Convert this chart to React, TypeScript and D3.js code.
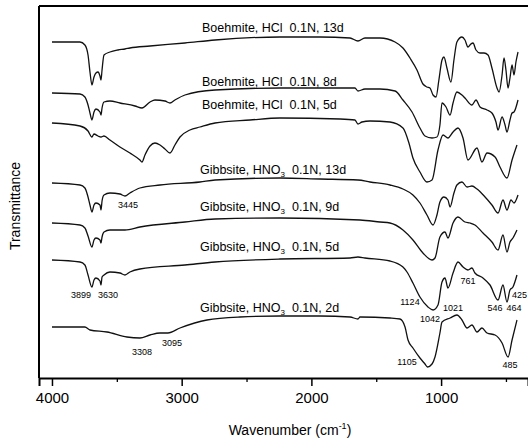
import React, { useEffect, useRef } from 'react'
import * as d3 from 'd3'

// spectra, [wavenumber (cm-1), offset transmittance (a.u.)]
const boehmite13d: [number, number][] = [
  [4000, 336], [3784, 336], [3746, 333], [3722, 323], [3707, 306], [3692, 293], [3676, 301],
  [3661, 305], [3645, 306], [3630, 302], [3622, 298], [3614, 308], [3599, 323], [3553, 326],
  [3491, 328], [3437, 329], [3399, 330], [3244, 332], [2975, 335], [2743, 338], [2242, 341],
  [1934, 341], [1702, 340], [1641, 337], [1587, 340], [1471, 340], [1355, 336], [1294, 330],
  [1240, 320], [1186, 308], [1140, 294], [1109, 291], [1086, 290], [1062, 283], [1039, 281],
  [1017, 298], [993, 318], [978, 321], [955, 310], [924, 296], [901, 318], [878, 336],
  [839, 341], [816, 338], [793, 331], [770, 334], [754, 335], [731, 328], [700, 325],
  [669, 325], [638, 323], [608, 310], [569, 290], [553, 286], [530, 303], [515, 320],
  [500, 308], [484, 290], [469, 300], [453, 313], [438, 303], [423, 316], [407, 326]
]

const boehmite8d: [number, number][] = [
  [4000, 285], [3784, 284], [3746, 281], [3722, 273], [3707, 265], [3692, 258], [3676, 266],
  [3661, 269], [3630, 266], [3622, 263], [3614, 270], [3599, 276], [3553, 277], [3476, 275],
  [3360, 272], [3306, 270], [3244, 276], [3206, 278], [3129, 277], [3090, 275], [3052, 278],
  [2975, 283], [2743, 288], [2242, 290], [1779, 290], [1664, 290], [1641, 287], [1587, 289],
  [1471, 289], [1355, 287], [1294, 278], [1224, 266], [1163, 250], [1124, 242], [1070, 240],
  [1032, 241], [1009, 253], [993, 275], [962, 271], [931, 263], [908, 275], [878, 286],
  [839, 283], [816, 280], [762, 273], [731, 278], [700, 271], [646, 268], [608, 265],
  [577, 256], [561, 248], [530, 261], [507, 253], [492, 246], [469, 258], [453, 265],
  [438, 266], [407, 278]
]

const boehmite5d: [number, number][] = [
  [4000, 255], [3784, 252], [3722, 247], [3692, 241], [3676, 244], [3645, 242], [3622, 241],
  [3599, 242], [3553, 238], [3476, 231], [3399, 225], [3322, 218], [3306, 216], [3283, 223],
  [3244, 232], [3206, 235], [3167, 233], [3129, 229], [3090, 225], [3052, 233], [3013, 241],
  [2936, 248], [2859, 251], [2743, 255], [2473, 258], [2242, 260], [1779, 259], [1664, 258],
  [1641, 254], [1610, 256], [1548, 257], [1394, 256], [1294, 250], [1248, 235], [1217, 220],
  [1163, 206], [1109, 196], [1070, 198], [1024, 228], [985, 243], [947, 240], [908, 246],
  [870, 250], [831, 240], [793, 218], [723, 230], [685, 216], [646, 225], [584, 221],
  [546, 211], [492, 200], [453, 218], [415, 233]
]

const gibbsite13d: [number, number][] = [
  [4000, 195], [3784, 193], [3746, 190], [3722, 181], [3707, 173], [3692, 166], [3676, 173],
  [3661, 175], [3630, 173], [3622, 168], [3614, 177], [3599, 183], [3553, 185], [3476, 184],
  [3437, 182], [3399, 185], [3322, 190], [3167, 193], [2859, 196], [2743, 198], [2242, 200],
  [1934, 199], [1641, 198], [1548, 196], [1394, 193], [1294, 189], [1217, 183], [1163, 175],
  [1109, 163], [1062, 153], [1032, 163], [1009, 176], [978, 181], [947, 178], [931, 171],
  [901, 185], [878, 193], [839, 196], [800, 191], [762, 192], [723, 189], [661, 181],
  [608, 173], [561, 165], [523, 178], [492, 168], [461, 178], [438, 175], [407, 183]
]

const gibbsite9d: [number, number][] = [
  [4000, 155], [3784, 153], [3746, 150], [3722, 142], [3692, 131], [3676, 138], [3661, 140],
  [3630, 138], [3622, 135], [3614, 141], [3599, 146], [3553, 148], [3437, 148], [3322, 151],
  [2975, 156], [2743, 159], [2242, 160], [1625, 158], [1471, 156], [1394, 155], [1294, 148],
  [1217, 138], [1140, 125], [1070, 118], [1047, 120], [1009, 141], [970, 146], [947, 140],
  [908, 155], [870, 161], [816, 156], [777, 155], [739, 153], [677, 145], [608, 136],
  [561, 128], [523, 143], [492, 126], [469, 136], [446, 140], [415, 148]
]

const gibbsite5d: [number, number][] = [
  [4000, 118], [3784, 116], [3746, 113], [3722, 103], [3692, 91], [3676, 98], [3661, 100],
  [3630, 97], [3622, 93], [3614, 101], [3599, 103], [3553, 106], [3476, 105], [3437, 103],
  [3399, 106], [3322, 109], [2975, 113], [2743, 116], [2242, 119], [1702, 120], [1641, 121],
  [1587, 120], [1394, 117], [1294, 111], [1263, 106], [1217, 95], [1163, 81], [1101, 71],
  [1062, 68], [1024, 73], [993, 96], [970, 100], [947, 90], [908, 105], [870, 116],
  [831, 111], [793, 108], [762, 110], [739, 105], [677, 100], [623, 93], [561, 78],
  [523, 93], [492, 76], [469, 88], [446, 91], [415, 103]
]

const gibbsite2d: [number, number][] = [
  [4000, 51], [3784, 51], [3746, 51], [3707, 48], [3576, 46], [3422, 41], [3322, 40],
  [3244, 43], [3167, 45], [3106, 45], [3013, 50], [2805, 58], [2551, 61], [2242, 62],
  [1934, 62], [1702, 61], [1641, 59], [1625, 61], [1394, 60], [1317, 59], [1278, 51],
  [1255, 38], [1217, 30], [1163, 20], [1124, 14], [1105, 11], [1070, 14], [1047, 21],
  [1009, 45], [993, 56], [931, 60], [878, 63], [839, 58], [800, 50], [762, 53], [723, 46],
  [685, 50], [646, 45], [584, 43], [530, 35], [484, 21], [453, 38], [415, 58]
]

const spectra = [boehmite13d, boehmite8d, boehmite5d, gibbsite13d, gibbsite9d, gibbsite5d, gibbsite2d]

// series names
const minerals = ['Boehmite', 'Boehmite', 'Boehmite', 'Gibbsite', 'Gibbsite', 'Gibbsite', 'Gibbsite']
const acids = ['HCl', 'HCl', 'HCl', 'HNO', 'HNO', 'HNO', 'HNO']
const days = ['13d', '8d', '5d', '13d', '9d', '5d', '2d']
const nameX = [2843, 2843, 2843, 2859, 2859, 2859, 2859]
const nameY = [350, 296, 273, 208, 171, 131, 70]

// peak annotations
const peakLabels = ['3445', '3899', '3630', '3308', '3095', '1124', '1021', '1042', '761', '546', '464', '425', '1105', '485']
const peakX = [3414, 3776, 3568, 3306, 3075, 1240, 908, 1085, 792, 584, 438, 337, 1263, 469]
const peakY = [173, 83, 83, 26, 35, 76, 70, 59, 97, 70, 70, 83, 16, 13]

const majorTicks = [4000, 3000, 2000, 1000]
const minorTicks = [3500, 2500, 1500, 500]

const App = () => {
  const ref = useRef<SVGSVGElement>(null)

  const width = 528
    , height = 441
    , left = 39
    , top = 6
    , bottom = 378

  useEffect(() => {
    const svg = d3.select(ref.current)
    svg.selectAll('*').remove()

    const xScale = d3.scaleLinear().domain([4100, 330]).range([left, width])
    const yScale = d3.scaleLinear().domain([0, 372]).range([bottom, top])

    const line = d3.line<[number, number]>()
      .x(d => xScale(d[0]))
      .y(d => yScale(d[1]))
      .curve(d3.curveMonotoneX)

    const g = svg.append('g')

    // frame
    g.append('line').attr('x1', left).attr('x2', width).attr('y1', top).attr('y2', top)
      .attr('stroke', '#000').attr('stroke-width', 2.2)
    g.append('line').attr('x1', left).attr('x2', left).attr('y1', top).attr('y2', bottom)
      .attr('stroke', '#000').attr('stroke-width', 2)

    // x axis
    const xAxis = g.append('g').attr('transform', 'translate(0,' + bottom + ')')
      .call(d3.axisBottom(xScale).tickValues(majorTicks).tickSize(8).tickPadding(6).tickFormat(d3.format('d')))
    xAxis.select('.domain').attr('stroke-width', 2)
    xAxis.selectAll('.tick line').attr('stroke-width', 1.5)
    xAxis.selectAll('text')
      .style('font-family', 'Arial, "Liberation Sans", sans-serif')
      .style('font-size', '15px')
      .attr('fill', '#000')
    g.append('g').attr('transform', 'translate(0,' + bottom + ')')
      .call(d3.axisBottom(xScale).tickValues(minorTicks).tickSize(4).tickFormat(() => ''))
      .call(s => s.select('.domain').remove())
      .selectAll('.tick line').attr('stroke-width', 1.3)

    // spectra
    g.selectAll('.spectrum')
      .data(spectra)
      .enter().append('path')
      .attr('class', 'spectrum')
      .attr('d', d => line(d))
      .attr('fill', 'none')
      .attr('stroke', '#111')
      .attr('stroke-width', 1.3)

    // series names
    const names = g.selectAll('.name')
      .data(minerals)
      .enter().append('text')
      .attr('class', 'name')
      .attr('x', (d, i) => xScale(nameX[i]))
      .attr('y', (d, i) => yScale(nameY[i]) + 4)
      .style('font-family', 'Arial, "Liberation Sans", sans-serif')
      .style('font-size', '12.5px')
      .attr('fill', '#000')
    names.append('tspan').text((d, i) => d + ', ' + acids[i])
    names.filter((d, i) => acids[i] === 'HNO').append('tspan')
      .attr('dy', 3).style('font-size', '8px').text('3')
    names.append('tspan')
      .attr('dy', (d, i) => acids[i] === 'HNO' ? -3 : 0)
      .attr('xml:space', 'preserve')
      .text((d, i) => '  0.1N, ' + days[i])

    // peak labels
    g.selectAll('.peak')
      .data(peakLabels)
      .enter().append('text')
      .attr('class', 'peak')
      .attr('x', (d, i) => xScale(peakX[i]))
      .attr('y', (d, i) => yScale(peakY[i]) + 3)
      .attr('text-anchor', (d, i) => i === 11 ? 'end' : 'middle')
      .style('font-family', 'Arial, "Liberation Sans", sans-serif')
      .style('font-size', '9px')
      .attr('fill', '#000')
      .text(d => d)

    // X label
    const xl = g.append('text')
      .attr('x', 290)
      .attr('y', 435)
      .attr('text-anchor', 'middle')
      .style('font-family', 'Arial, "Liberation Sans", sans-serif')
      .style('font-size', '14px')
    xl.append('tspan').text('Wavenumber (cm')
    xl.append('tspan').attr('dy', -6).style('font-size', '9px').text('-1')
    xl.append('tspan').attr('dy', 6).text(')')

    // Y label
    g.append('text')
      .attr('text-anchor', 'middle')
      .attr('transform', 'translate(20,206)rotate(-90)')
      .style('font-family', 'Arial, "Liberation Sans", sans-serif')
      .style('font-size', '14px')
      .text('Transmittance')
  }, [])

  return (
    <svg
      ref={ref}
      width={width}
      height={height}
      style={{ position: 'absolute', left: 0, top: 0, background: '#fff' }}
    />
  )
}

export default App
